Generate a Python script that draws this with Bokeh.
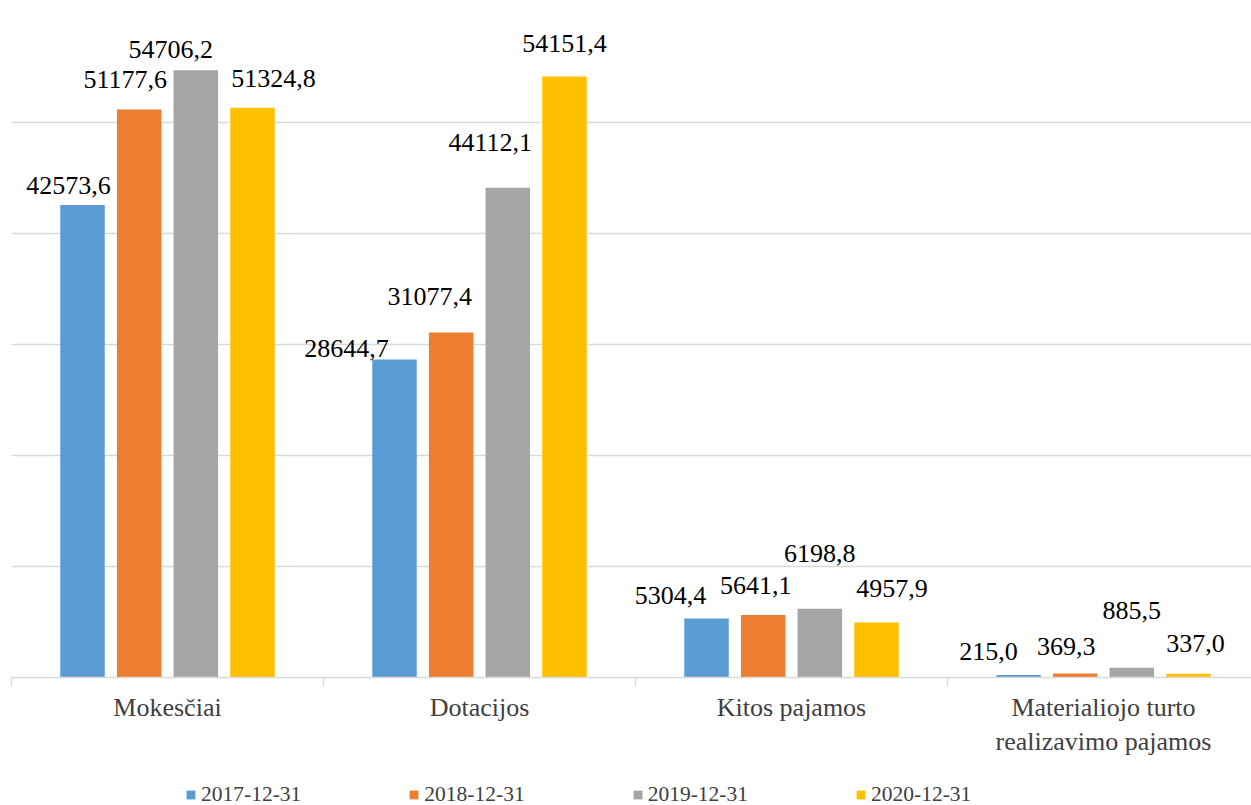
from bokeh.plotting import figure
from bokeh.layouts import column
from bokeh.models import Range1d, FixedTicker, Legend, LegendItem, ColumnDataSource
from bokeh.core.properties import value
from bokeh.embed import file_html
from bokeh.resources import INLINE

# ---------------- data ----------------
categories = ["Mokesčiai", "Dotacijos", "Kitos pajamos",
              "Materialiojo turto\nrealizavimo pajamos"]
series = ["2017-12-31", "2018-12-31", "2019-12-31", "2020-12-31"]
v2017 = [42573.6, 28644.7, 5304.4, 215.0]
v2018 = [51177.6, 31077.4, 5641.1, 369.3]
v2019 = [54706.2, 44112.1, 6198.8, 885.5]
v2020 = [51324.8, 54151.4, 4957.9, 337.0]
grid_ticks = [10000, 20000, 30000, 40000, 50000, 60000]

# ---------------- layout / style ----------------
colors = ["#5B9BD5", "#ED7D31", "#A5A5A5", "#FFC000"]
CAT_PX = 312.0                      # pixels per category
bar_offsets_px = [-85, -28.3, 28.3, 85]
bar_width_px = 44.5
# data-label nudges (pixels) relative to the top centre of each bar
label_dx = [[-14, -48, -36, -30],
            [-14, -21.5, -7.5, -9],
            [-25, -17.5, 0, 0],
            [21, 0, 15.5, 7]]
label_gap = [[11, 3, 15, 16],
             [22, 28, 21, 19],
             [12.7, 37, 47, 49],
             [21, 25, 26, 22]]
BASELINE_FIX = 8

FONT = "'Liberation Serif', 'Times New Roman', serif"
W = 1251
H_MAIN, H_LEG = 778, 27
ML, MT = 11, 11
frame_w = W - ML
frame_h = 666

p = figure(width=W, height=H_MAIN, output_backend="svg", toolbar_location=None,
           x_range=Range1d(-0.5, -0.5 + frame_w / CAT_PX),
           y_range=Range1d(0, 60000),
           min_border_left=ML, min_border_right=0, min_border_top=MT,
           min_border_bottom=H_MAIN - MT - frame_h)
p.outline_line_color = None
p.background_fill_color = "white"
p.border_fill_color = "white"
p.yaxis.visible = False
p.xgrid.visible = False
p.ygrid.ticker = FixedTicker(ticks=grid_ticks)
p.ygrid.grid_line_color = "#D9D9D9"
p.ygrid.grid_line_width = 1.3

xs = list(range(len(categories)))
all_vals = [v2017, v2018, v2019, v2020]
for i, vals in enumerate(all_vals):
    off = bar_offsets_px[i] / CAT_PX
    src = ColumnDataSource(dict(
        x=[c + off for c in xs],
        top=vals,
        label=[f"{v:.1f}".replace(".", ",") for v in vals],
        dx=label_dx[i],
        dy=[-(g + BASELINE_FIX) for g in label_gap[i]],
    ))
    p.vbar(x="x", top="top", width=bar_width_px / CAT_PX, bottom=0,
           source=src, fill_color=colors[i], line_color=None)
    p.text(x="x", y="top", text="label", x_offset="dx", y_offset="dy",
           source=src, text_align="center", text_baseline="alphabetic",
           text_font=value(FONT), text_font_size="26px", text_color="#000000")

ax = p.xaxis[0]
ax.ticker = FixedTicker(ticks=xs, minor_ticks=[c - 0.5 for c in xs] + [len(xs) - 0.5])
ax.major_label_overrides = {c: categories[c] for c in xs}
ax.axis_line_color = "#D9D9D9"
ax.axis_line_width = 1.3
ax.major_tick_line_color = None
ax.major_tick_out = 0
ax.major_tick_in = 0
ax.minor_tick_line_color = "#D9D9D9"
ax.minor_tick_line_width = 1.3
ax.minor_tick_out = 9
ax.minor_tick_in = 0
ax.major_label_standoff = 6
ax.major_label_text_font = FONT
ax.major_label_text_font_size = "26px"
ax.major_label_text_color = "#404040"

# ---------------- legend strip ----------------
q = figure(width=W, height=H_LEG, output_backend="svg", toolbar_location=None,
           x_range=Range1d(0, 1), y_range=Range1d(0, 1),
           x_axis_type=None, y_axis_type=None,
           min_border_left=0, min_border_right=0, min_border_top=0, min_border_bottom=0)
q.outline_line_color = None
q.grid.visible = False
leg_renderers = []
for i, s in enumerate(series):
    # proxy glyphs placed outside the visible range; only their legend swatch shows
    leg_renderers.append(q.vbar(x=[5], top=[1], width=0.1, fill_color=colors[i], line_color=None))

legend = Legend(items=[LegendItem(label=s, renderers=[r]) for s, r in zip(series, leg_renderers)],
                orientation="horizontal", location=(174, -2),
                glyph_width=11, glyph_height=11, label_standoff=5, spacing=107,
                padding=0, margin=0, border_line_color=None,
                background_fill_alpha=0,
                label_text_font=FONT, label_text_font_size="21.5px",
                label_text_color="#404040")
q.add_layout(legend)

open("out.html", "w").write(file_html(column(p, q, spacing=0), INLINE))
